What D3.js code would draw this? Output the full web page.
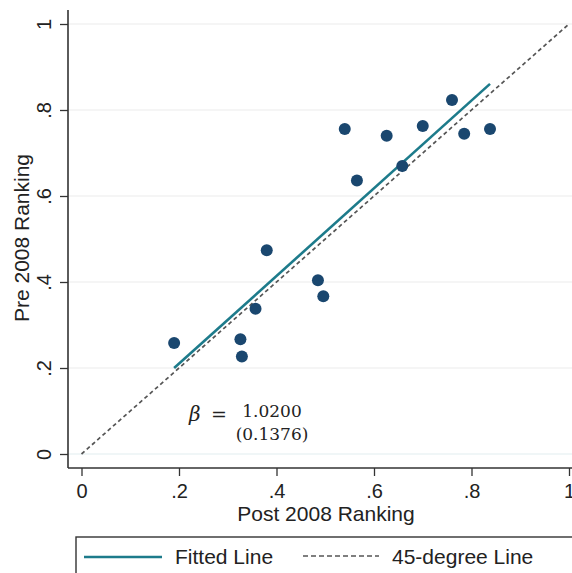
<!DOCTYPE html>
<html>
<head>
<meta charset="utf-8">
<script src="https://cdn.jsdelivr.net/npm/d3@7"></script>
<style>
  body { margin: 0; background: #fff; }
  text { font-family: "Liberation Sans", Arial, sans-serif; fill: #222; }
  .math { font-family: "DejaVu Serif", serif; }
</style>
</head>
<body>
<div id="canvas"></div>
<script>
// Post vs pre 2008 ranking scatter, Stata style

// data
var post2008 = [0.19, 0.326, 0.329, 0.357, 0.380, 0.485, 0.496, 0.540, 0.565, 0.626, 0.658, 0.700, 0.760, 0.785, 0.838];
var pre2008  = [0.258, 0.267, 0.227, 0.338, 0.474, 0.404, 0.367, 0.756, 0.636, 0.740, 0.670, 0.763, 0.823, 0.745, 0.756];
var fitIntercept = 0.006, fitSlope = 1.02;
var yTicks = [0, 0.2, 0.4, 0.6, 0.8, 1],
    xTicks = [0, 0.2, 0.4, 0.6, 0.8, 1];
var tickLabels = ['0', '.2', '.4', '.6', '.8', '1'];
var legendLabels = ['Fitted Line', '45-degree Line'];
var betaText = ['1.0200', '(0.1376)'];

var W = 572, H = 573;
var axisX = 68, axisY = 468;

var svg = d3.select('#canvas')
    .append('svg')
    .attr('width', W)
    .attr('height', H);

var x = d3.scaleLinear().domain([0, 1]).range([81.5, 569]),
    y = d3.scaleLinear().domain([0, 1]).range([454, 24]);

var fmt = function(d){ return tickLabels[yTicks.indexOf(d)]; };

// gridlines
svg.selectAll('.grid')
    .data(yTicks)
    .enter()
    .append('line').attr('class', 'grid')
    .attr('x1', axisX).attr('x2', W)
    .attr('y1', function(d){ return y(d); })
    .attr('y2', function(d){ return y(d); })
    .style('stroke', function(d){ return d == 0 ? '#e2eef0' : '#ebebeb'; })
    .style('stroke-width', 1.2);

// 45-degree line
svg.append('line')
    .attr('x1', x(0)).attr('y1', y(0))
    .attr('x2', x(1)).attr('y2', y(1))
    .style('stroke', '#555')
    .style('stroke-width', 1.7)
    .style('stroke-dasharray', '4,3');

// fitted line over the range of the data
var xmin = d3.min(post2008), xmax = d3.max(post2008);
svg.append('line')
    .attr('x1', x(xmin)).attr('y1', y(fitIntercept + fitSlope * xmin))
    .attr('x2', x(xmax)).attr('y2', y(fitIntercept + fitSlope * xmax))
    .style('stroke', '#1d7b8b')
    .style('stroke-width', 2.6);

// points
svg.selectAll('.dot')
    .data(post2008)
    .enter()
    .append('circle').attr('class', 'dot')
    .attr('cx', function(d){ return x(d); })
    .attr('cy', function(d, i){ return y(pre2008[i]); })
    .attr('r', 6)
    .style('fill', '#1a476f');

// y axis
var yAxis = svg.append('g')
    .attr('transform', 'translate(' + axisX + ',0)')
    .call(d3.axisLeft(y).tickValues(yTicks).tickFormat(fmt).tickSize(8).tickPadding(0));
yAxis.select('.domain').remove();
yAxis.selectAll('.tick line').style('stroke', '#333').style('stroke-width', 1.3);
yAxis.selectAll('.tick text')
    .attr('x', 0).attr('dy', null)
    .attr('transform', 'translate(-17,0) rotate(-90)')
    .attr('text-anchor', 'middle')
    .style('font-size', '20px')
    .style('fill', '#222');
svg.append('line')
    .attr('x1', axisX).attr('x2', axisX)
    .attr('y1', 10).attr('y2', axisY)
    .style('stroke', '#333').style('stroke-width', 1.6);

// x axis
var xAxis = svg.append('g')
    .attr('transform', 'translate(0,' + axisY + ')')
    .call(d3.axisBottom(x).tickValues(xTicks).tickFormat(fmt).tickSize(8).tickPadding(0));
xAxis.select('.domain').remove();
xAxis.selectAll('.tick line').style('stroke', '#333').style('stroke-width', 1.3);
xAxis.selectAll('.tick text')
    .attr('y', 30).attr('dy', null)
    .style('font-size', '20px')
    .style('fill', '#222');
svg.append('line')
    .attr('x1', axisX).attr('x2', W)
    .attr('y1', axisY).attr('y2', axisY)
    .style('stroke', '#333').style('stroke-width', 1.6);

// axis titles
svg.append('text')
    .attr('x', 326).attr('y', 521)
    .attr('text-anchor', 'middle')
    .style('font-size', '21px')
    .text('Post 2008 Ranking');

svg.append('text')
    .attr('transform', 'translate(29,238) rotate(-90)')
    .attr('text-anchor', 'middle')
    .style('font-size', '21px')
    .text('Pre 2008 Ranking');

// beta annotation
var beta = svg.append('g');
beta.append('text').attr('class', 'math')
    .attr('x', 189).attr('y', 421)
    .style('font-size', '20px').style('font-style', 'italic')
    .text('β');
beta.append('text').attr('class', 'math')
    .attr('x', 211).attr('y', 421)
    .style('font-size', '19px')
    .text('=');
beta.selectAll('.frac')
    .data(betaText)
    .enter()
    .append('text').attr('class', 'math frac')
    .attr('x', 272)
    .attr('y', function(d, i){ return i == 0 ? 417 : 440; })
    .attr('text-anchor', 'middle')
    .style('font-size', '17px')
    .text(function(d){ return d; });

// legend
svg.append('rect')
    .attr('x', 76).attr('y', 537)
    .attr('width', 520).attr('height', 60)
    .style('fill', '#fff')
    .style('stroke', '#333').style('stroke-width', 1.4);

svg.append('line')
    .attr('x1', 84).attr('x2', 162)
    .attr('y1', 557).attr('y2', 557)
    .style('stroke', '#1d7b8b').style('stroke-width', 2.6);
svg.append('line')
    .attr('x1', 303).attr('x2', 379)
    .attr('y1', 556).attr('y2', 556)
    .style('stroke', '#555').style('stroke-width', 1.3)
    .style('stroke-dasharray', '5,3');

svg.selectAll('.legend')
    .data(legendLabels)
    .enter()
    .append('text').attr('class', 'legend')
    .attr('x', function(d, i){ return i == 0 ? 175 : 392; })
    .attr('y', 564)
    .style('font-size', '21px')
    .text(function(d){ return d; });
</script>
</body>
</html>
